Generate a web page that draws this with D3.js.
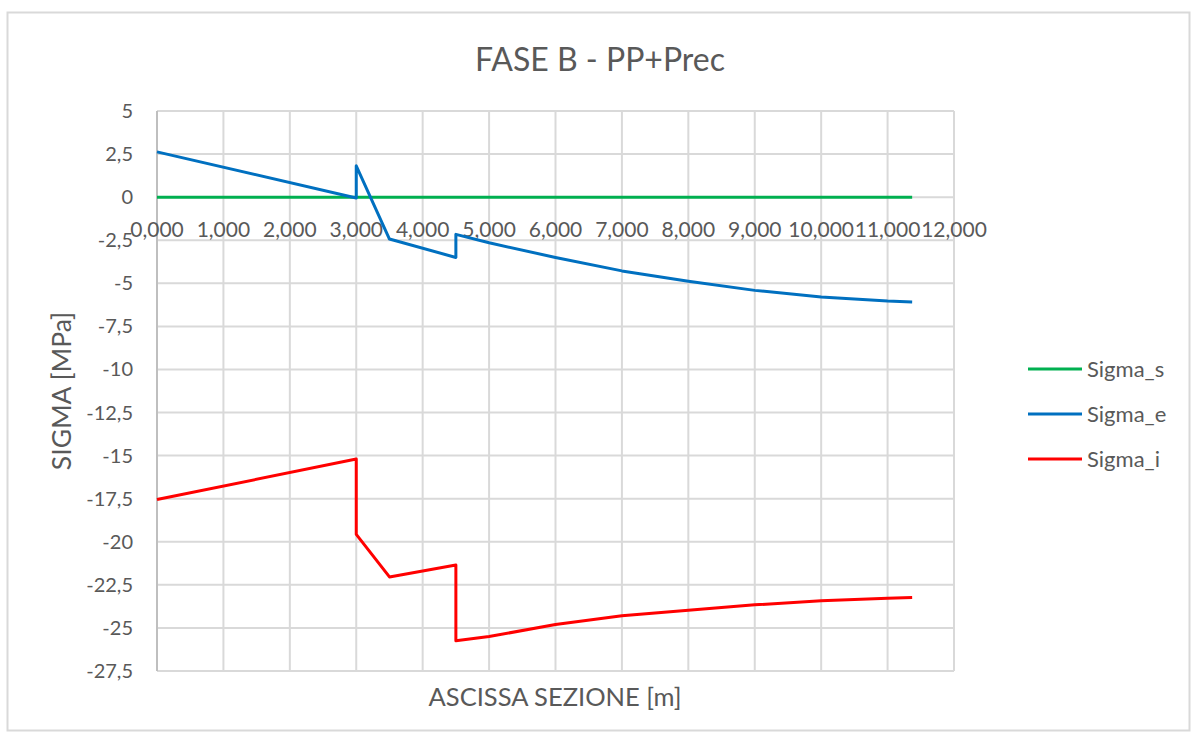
<!DOCTYPE html>
<html>
<head>
<meta charset="utf-8">
<script src="https://cdn.jsdelivr.net/npm/d3@7"></script>
<style>
  body { margin: 0; background: #fff; }
  text { font-family: Lato, "Liberation Sans", sans-serif; fill: #595959; }
</style>
</head>
<body>
<div id="chart"></div>
<script>
// chart data
const ascissa = [0, 3, 3, 3.5, 4.5, 4.5, 5, 6, 7, 8, 9, 10, 11, 11.37];
const sigmaS = [0, 0, 0, 0, 0, 0, 0, 0, 0, 0, 0, 0, 0, 0];
const sigmaE = [2.63, -0.05, 1.82, -2.43, -3.5, -2.16, -2.65, -3.5, -4.28, -4.88, -5.41, -5.8, -6.03, -6.08];
const sigmaI = [-17.55, -15.2, -19.57, -22.04, -21.35, -25.75, -25.5, -24.8, -24.3, -23.98, -23.66, -23.43, -23.28, -23.24];
const seriesNames = ["Sigma_s", "Sigma_e", "Sigma_i"];
const seriesColors = ["#00b050", "#0070c0", "#ff0000"];
const xTicks = d3.range(0, 13, 1);
const yTicks = d3.range(5, -27.6, -2.5);

const width = 1196;
const height = 738;
const margin = { top: 111, right: 242, bottom: 67, left: 157 };

const svg = d3.select("#chart")
    .append("svg")
    .attr("width", width)
    .attr("height", height);

// outer border
svg.append("rect")
    .attr("x", 7.5).attr("y", 12.5)
    .attr("width", 1182).attr("height", 718)
    .attr("fill", "#fff")
    .attr("stroke", "#d9d9d9")
    .attr("stroke-width", 2);

const x = d3.scaleLinear().domain([0, 12]).range([margin.left, width - margin.right]);
const y = d3.scaleLinear().domain([5, -27.5]).range([margin.top, height - margin.bottom]);

// gridlines
svg.append("g")
    .selectAll("line")
    .data(yTicks)
    .enter()
    .append("line")
    .attr("x1", x(0)).attr("x2", x(12))
    .attr("y1", d => y(d)).attr("y2", d => y(d))
    .attr("stroke", "#d9d9d9")
    .attr("stroke-width", 2);

svg.append("g")
    .selectAll("line")
    .data(xTicks)
    .enter()
    .append("line")
    .attr("x1", d => x(d)).attr("x2", d => x(d))
    .attr("y1", y(5)).attr("y2", y(-27.5))
    .attr("stroke", "#d9d9d9")
    .attr("stroke-width", 2);

// vertical axis line
svg.append("line")
    .attr("x1", x(0)).attr("x2", x(0))
    .attr("y1", y(5)).attr("y2", y(-27.5))
    .attr("stroke", "#bfbfbf")
    .attr("stroke-width", 2);

// y tick labels
const fmtY = d => String(d).replace(".", ",");
svg.append("g")
    .selectAll("text")
    .data(yTicks)
    .enter()
    .append("text")
    .attr("x", x(0) - 24)
    .attr("y", d => y(d))
    .attr("dy", "0.35em")
    .attr("text-anchor", "end")
    .style("font-size", "20px")
    .text(fmtY);

// x tick labels next to the zero line
const fmtX = d => d3.format(".3f")(d).replace(".", ",");
svg.append("g")
    .selectAll("text")
    .data(xTicks)
    .enter()
    .append("text")
    .attr("x", d => x(d))
    .attr("y", y(0) + 32)
    .attr("dy", "0.35em")
    .attr("text-anchor", "middle")
    .style("font-size", "21px")
    .text(fmtX);

// series
const line = d3.line()
    .x((d, i) => x(ascissa[i]))
    .y(d => y(d));

[sigmaS, sigmaE, sigmaI].forEach((values, k) => {
    svg.append("path")
        .datum(values)
        .attr("fill", "none")
        .attr("stroke", seriesColors[k])
        .attr("stroke-width", 3)
        .attr("stroke-linejoin", "round")
        .attr("d", line);
});

// title
svg.append("text")
    .attr("x", 600)
    .attr("y", 60)
    .attr("dy", "0.35em")
    .attr("text-anchor", "middle")
    .style("font-size", "32px")
    .text("FASE B - PP+Prec");

// axis titles
svg.append("text")
    .attr("transform", "translate(62," + ((y(5) + y(-27.5)) / 2) + ") rotate(-90)")
    .attr("dy", "0.35em")
    .attr("text-anchor", "middle")
    .style("font-size", "26.5px")
    .text("SIGMA [MPa]");

svg.append("text")
    .attr("x", 555)
    .attr("y", 697)
    .attr("dy", "0.35em")
    .attr("text-anchor", "middle")
    .style("font-size", "25.5px")
    .text("ASCISSA SEZIONE [m]");

// legend
const legend = svg.append("g")
    .selectAll("g")
    .data(seriesNames)
    .enter()
    .append("g")
    .attr("transform", (d, i) => "translate(1028," + (369 + i * 45) + ")");

legend.append("line")
    .attr("x1", 0).attr("x2", 54)
    .attr("stroke", (d, i) => seriesColors[i])
    .attr("stroke-width", 3);

legend.append("text")
    .attr("x", 59)
    .attr("dy", "0.35em")
    .style("font-size", "22px")
    .text(d => d);
</script>
</body>
</html>
